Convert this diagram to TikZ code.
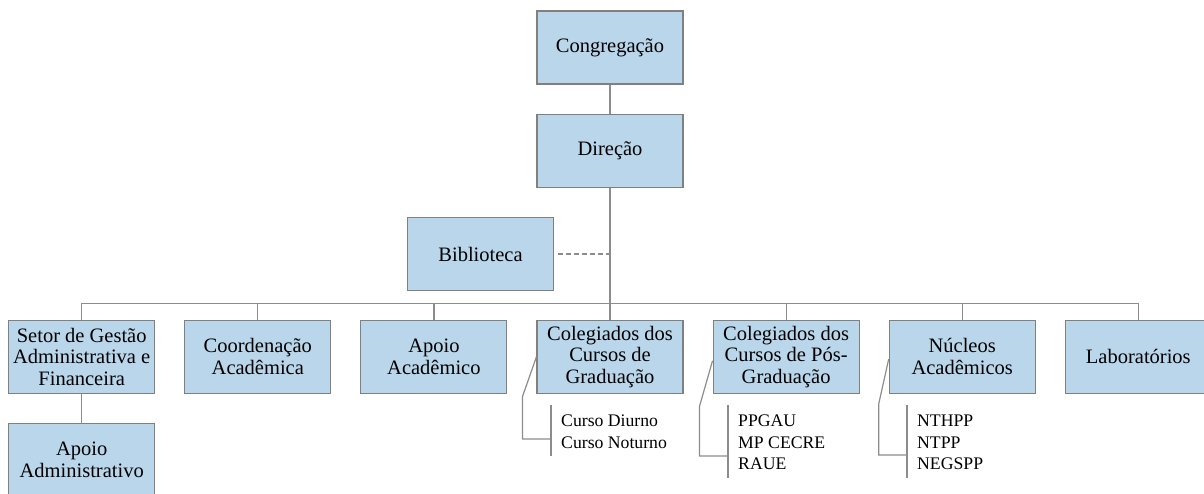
\documentclass[tikz,border=0pt]{standalone}
\usepackage{fontspec}
\setmainfont{Liberation Serif}
\usepackage{xcolor}
\usetikzlibrary{positioning}
\definecolor{boxblue}{RGB}{185,214,234}
\definecolor{boxgray}{RGB}{128,128,128}
\definecolor{linegray}{RGB}{140,140,140}
\tikzset{>=latex}

\begin{document}
\begin{tikzpicture}[x=1pt, y=1pt, node distance=29pt]
    % Define node styles
    \tikzstyle{orgbox} = [rectangle, draw=boxgray, line width=1.1pt, fill=boxblue, minimum width=146pt, minimum height=73pt, inner sep=0pt, align=center, font=\fontsize{20.5}{21.5}\selectfont]
    \tikzstyle{listtxt} = [anchor=north west, inner sep=0pt, align=left, font=\fontsize{17.7}{21.5}\selectfont]
    \tikzstyle{conn} = [draw=linegray, line width=1.2pt]

    \useasboundingbox (0,0) rectangle (1204,-494);

    % Top of the chart
    \node[orgbox] (cong) at (610,-47.5) {Congregação};
    \node[orgbox, below=of cong] (dir) {Direção};
    \node[orgbox] (bib) at (480.5,-254) {Biblioteca};

    % Bottom row
    \node[orgbox, below=132pt of dir] (colgrad) {Colegiados dos\\Cursos de\\Graduação};
    \node[orgbox, left=of colgrad] (apoioacad) {Apoio\\Acadêmico};
    \node[orgbox, left=of apoioacad] (coord) {Coordenação\\Acadêmica};
    \node[orgbox, left=of coord] (setor) {Setor de Gestão\\Administrativa e\\Financeira};
    \node[orgbox, right=of colgrad] (colpos) {Colegiados dos\\Cursos de Pós-\\Graduação};
    \node[orgbox, right=of colpos] (nuc) {Núcleos\\Acadêmicos};
    \node[orgbox, right=of nuc] (lab) {Laboratórios};
    \node[orgbox, below=of setor] (apoioadm) {Apoio\\Administrativo};

    % Lists under the boxes
    \node[listtxt] (gradlist) at (561,-415) {Curso Diurno\\Curso Noturno};
    \node[listtxt] (poslist) at (738,-415) {PPGAU\\MP CECRE\\RAUE};
    \node[listtxt] (nuclist) at (917,-415) {NTHPP\\NTPP\\NEGSPP};

    % Lines of the chart
    \coordinate (bus) at ([yshift=16pt]colgrad.north);
    \draw[conn] (cong) -- (dir);
    \draw[conn] (dir) -- (colgrad);
    \draw[conn] (setor.north) |- (bus) -| (lab.north);
    \foreach \n in {coord, apoioacad, colpos, nuc}
        \draw[conn] (\n.north) -- (\n.north |- bus);
    \draw[conn] (setor) -- (apoioadm);
    \draw[conn, dash pattern=on 5pt off 3pt, shorten <=4pt] (bib.east) -- (bib.east -| dir.south);

    % Brackets of the lists
    \coordinate (gradjoin) at ([shift={(-10pt,-24pt)}]gradlist.north west);
    \coordinate (posjoin) at ([shift={(-10pt,-41pt)}]poslist.north west);
    \coordinate (nucjoin) at ([shift={(-10pt,-40pt)}]nuclist.north west);
    \foreach \l in {gradlist, poslist, nuclist}
        \draw[conn] ([shift={(-10pt,10pt)}]\l.north west) -- ([shift={(-10pt,-7.5pt)}]\l.south west);
    \draw[conn] (colgrad.west) -- ++(-14pt,-40pt) |- (gradjoin);
    \draw[conn] ([yshift=-4pt]colpos.west) -- ++(-13pt,-45.5pt) |- (posjoin);
    \draw[conn] ([yshift=-2.5pt]nuc.west) -- ++(-10pt,-45pt) |- (nucjoin);

\end{tikzpicture}
\end{document}
